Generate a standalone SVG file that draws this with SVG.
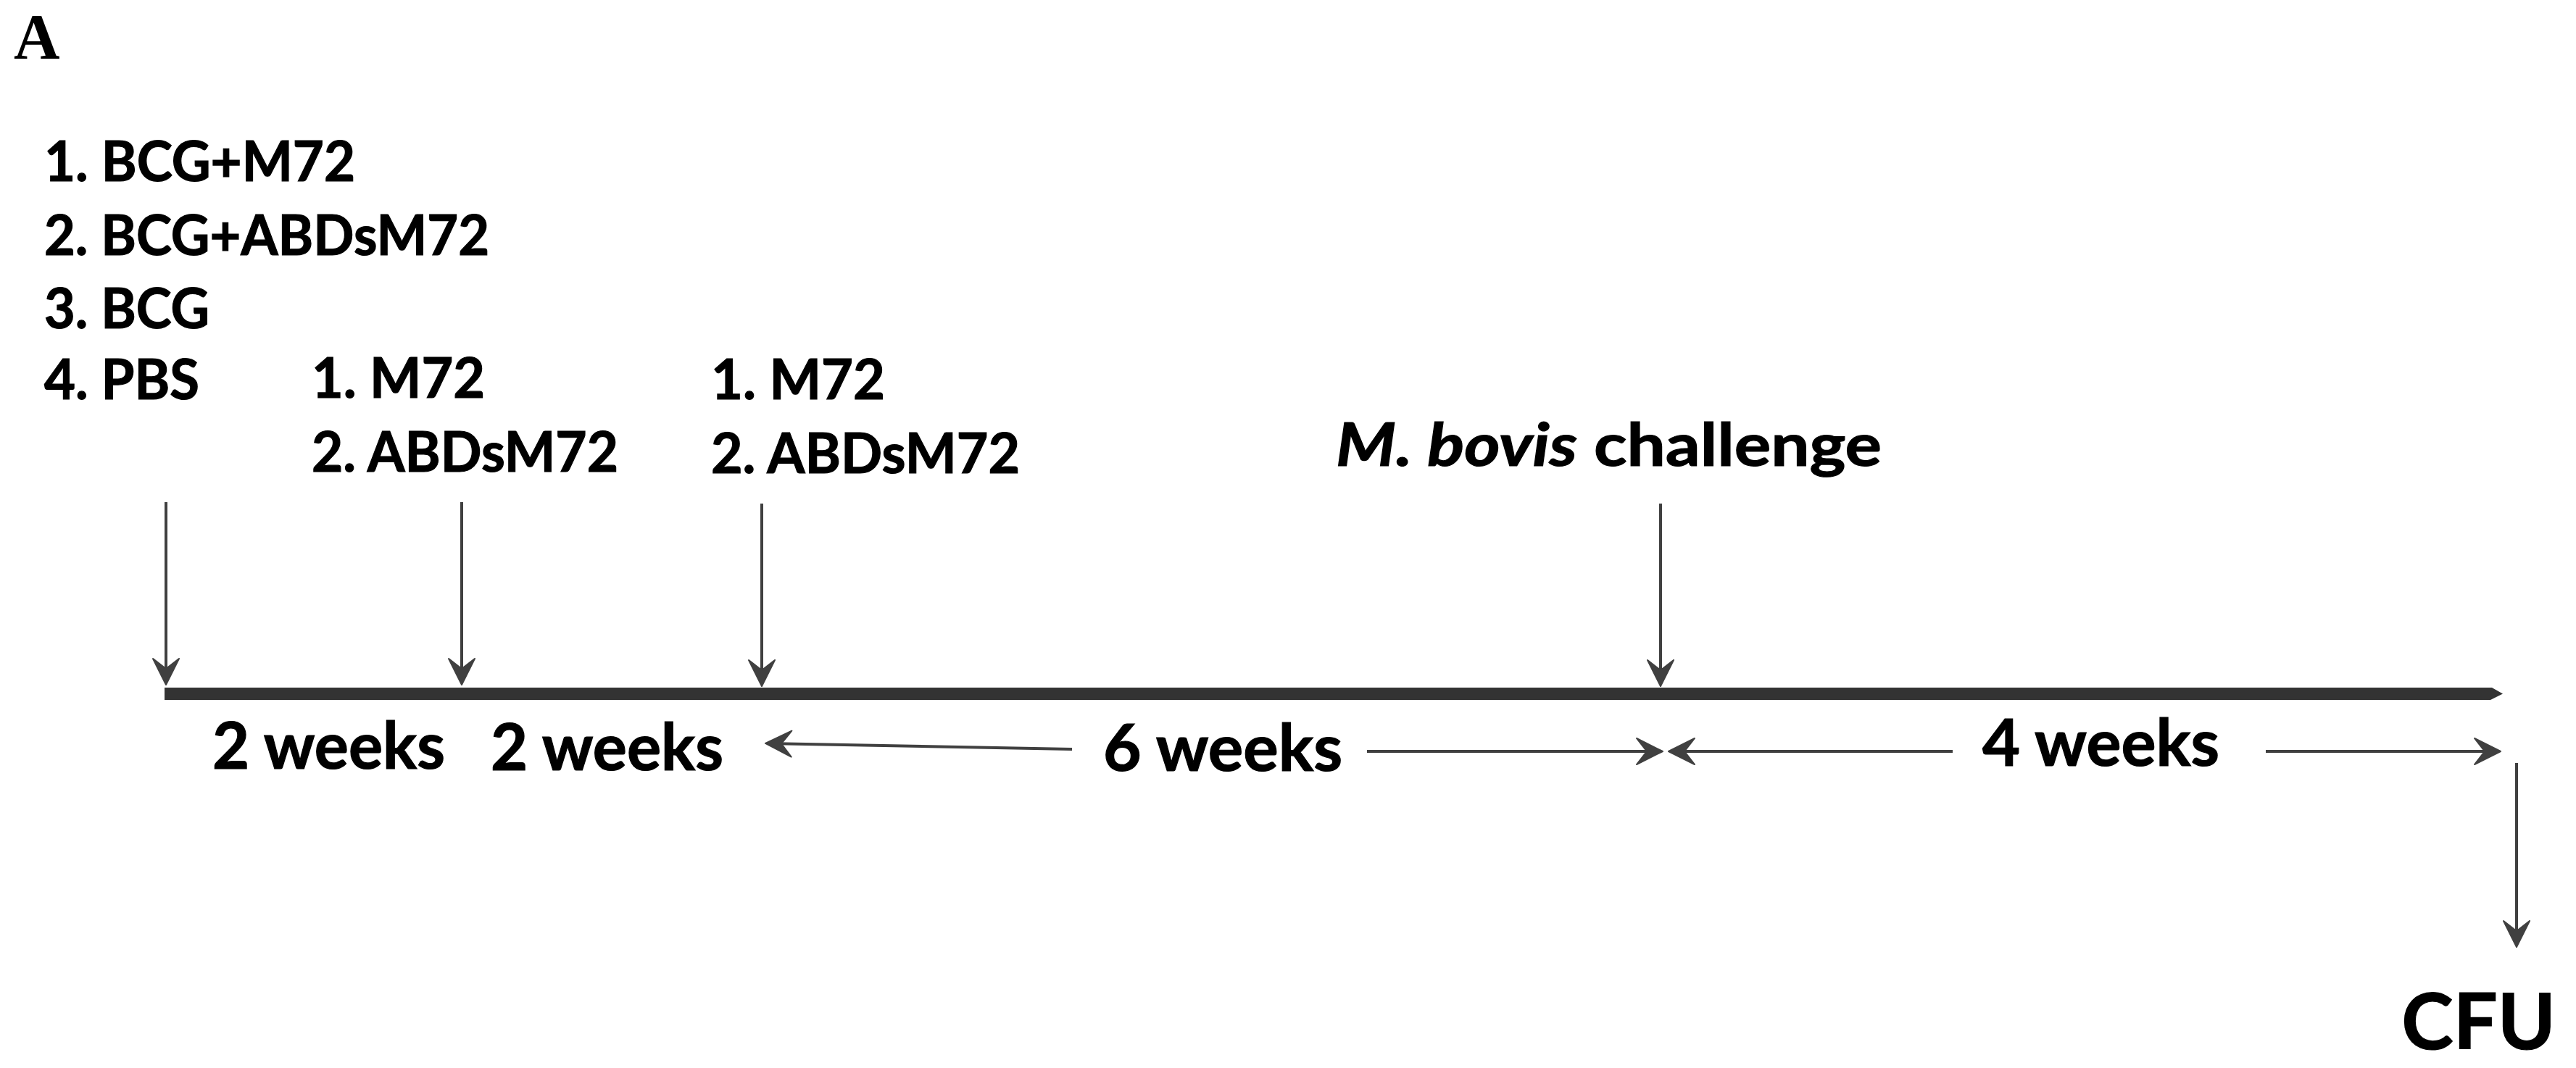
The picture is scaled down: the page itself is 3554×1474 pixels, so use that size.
<svg xmlns="http://www.w3.org/2000/svg" width="3554" height="1474" viewBox="0 0 3554 1474">
  <style>
    .lbl { font-family: Lato, "Noto Sans", "Liberation Sans", sans-serif; font-weight: bold; fill: #000; stroke: #000; stroke-width: 1.2; }
    .list { font-size: 77px; }
    .dur { font-size: 89px; }
    .conn { stroke: #404040; stroke-width: 4; fill: none; }
  </style>
  <defs>
    <marker id="ah" markerUnits="userSpaceOnUse" viewBox="-40 -22 44 44" refX="0" refY="0" markerWidth="44" markerHeight="44" orient="auto">
      <path d="M2,0 L-34,-18 L-20,0 L-34,18 Z" fill="#404040" stroke="#404040" stroke-width="2" stroke-linejoin="round"/>
    </marker>
    <linearGradient id="band" x1="0" y1="0" x2="1" y2="0">
      <stop offset="0" stop-color="#8a8a8a" stop-opacity="0"/>
      <stop offset="1" stop-color="#8a8a8a" stop-opacity="1"/>
    </linearGradient>
  </defs>
  <rect width="3554" height="1474" fill="#fff"/>

  <text x="19" y="80" font-family="'Liberation Serif', 'Times New Roman', serif" font-weight="bold" font-size="88">A</text>

  <g id="timeline">
    <path d="M227,949 H3438 L3453,957.5 L3436,966 H227 Z" fill="#333"/>
    <path d="M1200,957.5 H3436" stroke="url(#band)" stroke-width="5" fill="none"/>
  </g>

  <g id="node-prime">
    <text class="lbl list" x="61" y="250" textLength="429" lengthAdjust="spacingAndGlyphs">1. BCG+M72</text>
    <text class="lbl list" x="61" y="352" textLength="614" lengthAdjust="spacingAndGlyphs">2. BCG+ABDsM72</text>
    <text class="lbl list" x="61" y="453" textLength="228" lengthAdjust="spacingAndGlyphs">3. BCG</text>
    <text class="lbl list" x="61" y="551" textLength="214" lengthAdjust="spacingAndGlyphs">4. PBS</text>
  </g>

  <g id="node-boost1">
    <text class="lbl list" x="430" y="549" textLength="239" lengthAdjust="spacingAndGlyphs">1. M72</text>
    <text class="lbl list" x="430" y="651" textLength="423" lengthAdjust="spacingAndGlyphs">2. ABDsM72</text>
  </g>

  <g id="node-boost2">
    <text class="lbl list" x="981" y="551" textLength="240" lengthAdjust="spacingAndGlyphs">1. M72</text>
    <text class="lbl list" x="981" y="653" textLength="426" lengthAdjust="spacingAndGlyphs">2. ABDsM72</text>
  </g>

  <g id="node-challenge">
    <text class="lbl" x="1843" y="643" font-size="83" textLength="753" lengthAdjust="spacingAndGlyphs"><tspan font-style="italic">M. bovis</tspan> challenge</text>
  </g>

  <g id="node-cfu">
    <text class="lbl" x="3526" y="1448" font-size="108" text-anchor="end">CFU</text>
  </g>

  <g id="durations">
    <text class="lbl dur" x="293" y="1061" textLength="321" lengthAdjust="spacingAndGlyphs">2 weeks</text>
    <text class="lbl dur" x="677" y="1063" textLength="321" lengthAdjust="spacingAndGlyphs">2 weeks</text>
    <text class="lbl dur" x="1522" y="1064" textLength="330" lengthAdjust="spacingAndGlyphs">6 weeks</text>
    <text class="lbl dur" x="2735" y="1057" textLength="327" lengthAdjust="spacingAndGlyphs">4 weeks</text>
  </g>

  <g id="connectors">
    <line class="conn" x1="229" y1="693" x2="229" y2="943" marker-end="url(#ah)"/>
    <line class="conn" x1="637" y1="693" x2="637" y2="943" marker-end="url(#ah)"/>
    <line class="conn" x1="1051" y1="695" x2="1051" y2="945" marker-end="url(#ah)"/>
    <line class="conn" x1="2291" y1="695" x2="2291" y2="945" marker-end="url(#ah)"/>
    <line class="conn" x1="1479" y1="1034" x2="1058" y2="1026" stroke-width="6" marker-end="url(#ah)"/>
    <line class="conn" x1="1886" y1="1037" x2="2292" y2="1037" stroke-width="5" marker-end="url(#ah)"/>
    <line class="conn" x1="2694" y1="1037" x2="2304" y2="1037" stroke-width="5" marker-end="url(#ah)"/>
    <line class="conn" x1="3126" y1="1037" x2="3448" y2="1037" stroke-width="5" marker-end="url(#ah)"/>
    <line class="conn" x1="3472" y1="1053" x2="3472" y2="1305" marker-end="url(#ah)"/>
  </g>
</svg>
